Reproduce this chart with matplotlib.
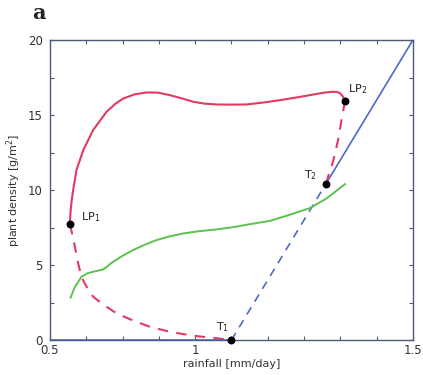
import numpy as np
import matplotlib.pyplot as plt
from matplotlib.ticker import MultipleLocator

# vegetated branch (stable, solid) from LP1 to LP2
stable_x = [0.555, 0.557, 0.560, 0.564, 0.573, 0.592, 0.619, 0.656, 0.680, 0.702, 0.733,
            0.766, 0.798, 0.831, 0.863, 0.895, 0.925, 0.959, 1.000, 1.042, 1.088, 1.135,
            1.180, 1.220, 1.253, 1.275, 1.290, 1.300, 1.307, 1.313]
stable_y = [7.73, 8.6, 9.3, 10.0, 11.33, 12.67, 14.0, 15.22, 15.75, 16.11, 16.38,
            16.51, 16.50, 16.33, 16.12, 15.89, 15.77, 15.71, 15.70, 15.71, 15.84, 16.0,
            16.18, 16.35, 16.49, 16.55, 16.55, 16.45, 16.25, 15.95]

# unstable branch LP1 -> T1
low_x = [0.555, 0.562, 0.569, 0.577, 0.587, 0.600, 0.619, 0.645, 0.684, 0.725, 0.775,
         0.820, 0.867, 0.910, 0.959, 1.000]
low_y = [7.73, 7.0, 6.2, 5.2, 4.2, 3.6, 2.9, 2.4, 1.78, 1.35, 0.89,
         0.62, 0.40, 0.25, 0.13, 0.0]

# unstable branch LP2 -> T2
up_x = [1.313, 1.303, 1.294, 1.280, 1.260]
up_y = [15.95, 14.6, 13.33, 11.9, 10.4]

# green curve
green_x = [0.557, 0.569, 0.587, 0.603, 0.619, 0.647, 0.674, 0.700, 0.729, 0.760, 0.794,
           0.830, 0.867, 0.910, 0.959, 1.010, 1.051, 1.106, 1.160, 1.216, 1.262, 1.313]
green_y = [2.84, 3.56, 4.22, 4.45, 4.56, 4.71, 5.22, 5.62, 6.0, 6.35, 6.67,
           6.92, 7.11, 7.26, 7.38, 7.55, 7.73, 7.95, 8.35, 8.8, 9.44, 10.4]

# bare-soil state and transcritical branch
bare_x = [0.5, 1.0]
bare_y = [0, 0]
trans_dash_x = [1.0, 1.26]
trans_dash_y = [0, 10.4]
trans_x = [1.26, 1.5]
trans_y = [10.4, 20]

pt_names = ['LP$_1$', 'LP$_2$', 'T$_1$', 'T$_2$']
pt_x = [0.555, 1.313, 1.0, 1.26]
pt_y = [7.73, 15.95, 0.0, 10.4]

red = '#e23a62'
green = '#5cc24e'
blue = '#4b6cc6'
axcol = '#4e5b78'

fig = plt.figure(figsize=(4.23, 3.75), dpi=100)
ax = fig.add_axes([0.118, 0.093, 0.858, 0.8])

ax.plot(bare_x, bare_y, color=blue, lw=1.2, zorder=3)
ax.plot(trans_dash_x, trans_dash_y, color=blue, lw=1.2, ls=(0, (5, 4)))
ax.plot(trans_x, trans_y, color=blue, lw=1.2)
ax.plot(green_x, green_y, color=green, lw=1.4)
ax.plot(stable_x, stable_y, color=red, lw=1.5)
ax.plot(low_x, low_y, color=red, lw=1.5, ls=(0, (5, 4)))
ax.plot(up_x, up_y, color=red, lw=1.5, ls=(0, (5, 4)))
ax.scatter(pt_x, pt_y, s=22, color='black', zorder=5, clip_on=False)

lab_off = [(8, 3), (2, 6), (-11, 7), (-16, 4)]
for name, x, y, off in zip(pt_names, pt_x, pt_y, lab_off):
    ax.annotate(name, (x, y), xytext=off, textcoords='offset points',
                fontsize=8, color='#222222')

ax.set_xlim(0.5, 1.5)
ax.set_ylim(0, 20)
ax.set_xticks([0.5, 0.9, 1.5])
ax.set_xticklabels(['0.5', '1', '1.5'])
ax.xaxis.set_minor_locator(MultipleLocator(0.1))
ax.set_yticks([0, 5, 10, 15, 20])
ax.yaxis.set_minor_locator(MultipleLocator(2.5))
ax.tick_params(which='both', direction='in', top=True, right=True,
               color=axcol, length=3, width=0.8)
ax.tick_params(which='major', labelsize=8.5, labelcolor='#333333')
ax.tick_params(axis='y', pad=5)
ax.tick_params(axis='x', pad=3)
for sp in ax.spines.values():
    sp.set_color(axcol)
    sp.set_linewidth(1.0)

ax.set_xlabel('rainfall [mm/day]', fontsize=8, color='#333333', labelpad=1)
ax.set_ylabel('plant density [g/m$^2$]', fontsize=8, color='#333333', labelpad=4)

fig.text(0.075, 0.965, 'a', fontsize=15, fontweight='bold', family='DejaVu Serif',
         color='#222222', va='center')

fig.savefig('out.png', dpi=100)
